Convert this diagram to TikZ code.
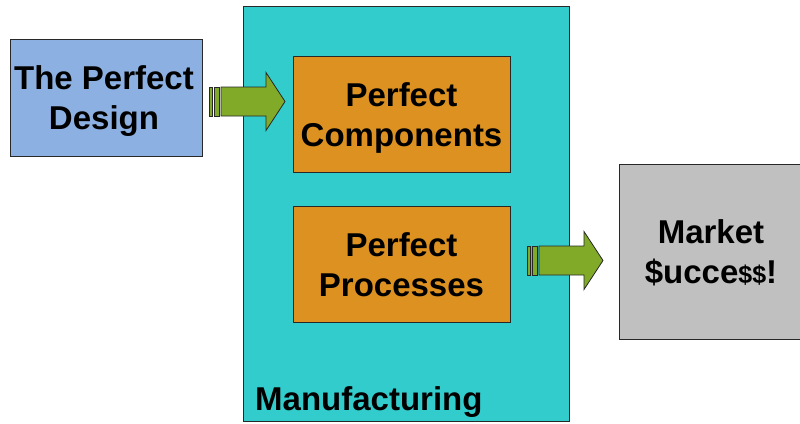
\documentclass[tikz,border=0pt]{standalone}
\usepackage{fontspec}
\setmainfont{Liberation Sans}
\definecolor{designblue}{RGB}{141,176,226}
\definecolor{mfgteal}{RGB}{51,204,204}
\definecolor{partorange}{RGB}{221,145,32}
\definecolor{marketgray}{RGB}{192,192,192}
\definecolor{arrowgreen}{RGB}{128,170,40}
\definecolor{edge}{RGB}{40,40,40}
\tikzset{
  bigtext/.style={font=\fontsize{33}{40}\selectfont\bfseries},
  box/.style={draw=edge, line width=0.9pt, inner sep=0pt, align=center, bigtext},
  blockarrow/.pic={
    \path[draw=edge, line width=0.8pt, fill=arrowgreen]
      (0,-14.5) rectangle (3,14.5)
      (5,-14.5) rectangle (10,14.5);
    \path[draw=edge, line width=0.8pt, fill=arrowgreen]
      (12,-14.5) -- (57,-14.5) -- (57,-29) -- (76,0) -- (57,29)
      -- (57,14.5) -- (12,14.5) -- cycle;
  }
}
\begin{document}
\begin{tikzpicture}[x=1pt, y=-1pt]
  \useasboundingbox (0,0) rectangle (800,423);
  % manufacturing area
  \node[box, fill=mfgteal, minimum width=326pt, minimum height=415pt]
    (mfg) at (406,213.5) {};
  \node[anchor=base west, inner sep=0pt, bigtext]
    (mfglabel) at (255,410) {Manufacturing};
  % design input
  \node[box, fill=designblue, minimum width=192pt, minimum height=117pt]
    (design) at (106,97.5) {};
  \node[align=center, inner sep=0pt, bigtext] (designtext)
    at (104,101.5) {The Perfect\\Design};
  % inner blocks
  \node[box, fill=partorange, minimum width=217pt, minimum height=116pt]
    (comp) at (401.5,114) {};
  \node[align=center, inner sep=0pt, bigtext] (comptext)
    at (401.5,117.5) {Perfect\\Components};
  \node[box, fill=partorange, minimum width=217pt, minimum height=116pt]
    (proc) at (401.5,264) {};
  \node[align=center, inner sep=0pt, bigtext] (proctext)
    at (401.5,265) {Perfect\\Processes};
  % outcome
  \node[box, fill=marketgray, minimum width=181pt, minimum height=175pt]
    (market) at (709.5,251.5) {};
  \node[align=center, inner sep=0pt, bigtext] (markettext)
    at (711,252.5) {Market\\\$ucce{\fontsize{25}{25}\selectfont\$\$}!};
  % striped block arrows
  \pic at (209,101.5) {blockarrow};
  \pic at (527,260.5) {blockarrow};
\end{tikzpicture}
\end{document}
